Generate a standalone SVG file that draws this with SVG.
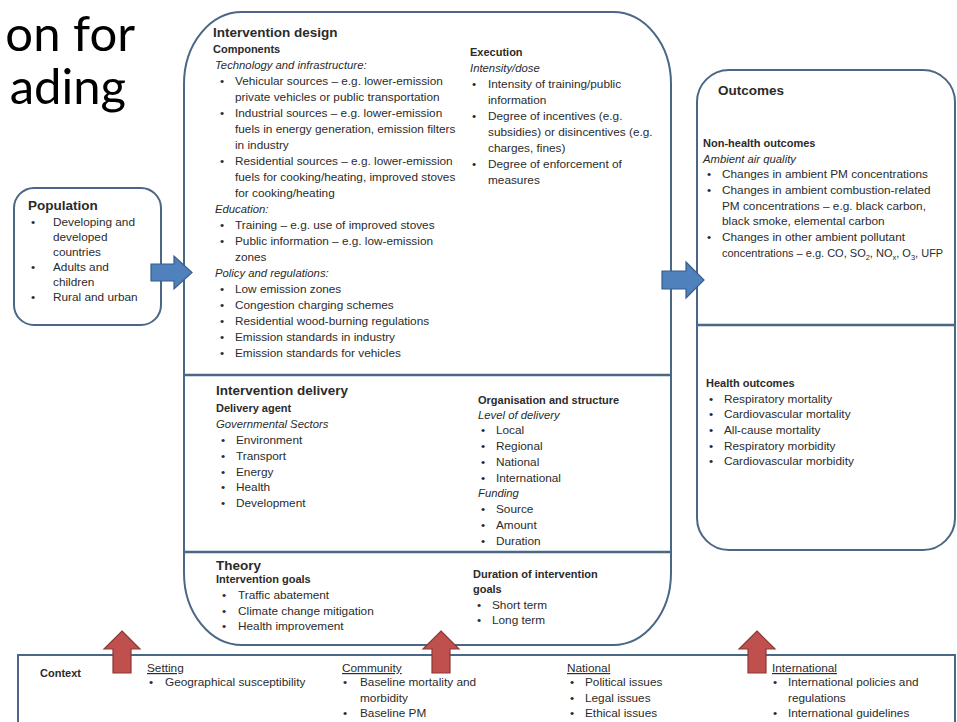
<svg xmlns="http://www.w3.org/2000/svg" width="957" height="722" viewBox="0 0 957 722">
<style>
text{font-family:"Liberation Sans",Arial,sans-serif;font-size:11.8px;fill:#2b2b2b}
.h1{font-weight:bold;font-size:13.5px}
.h2{font-weight:bold;font-size:11px}
.it{font-style:italic;font-size:11.3px}
.u{text-decoration:underline}
.title{font-family:Lato,"Liberation Sans",sans-serif;font-size:49px;fill:#000}
.box{fill:#fff;stroke:#4a6885;stroke-width:2}
.div{stroke:#4a6885;stroke-width:2.5}
.blue{fill:#4f81bd;stroke:#385d8a;stroke-width:1.2}
.red{fill:#c0504d;stroke:#8c3836;stroke-width:1.2}
</style>
<rect width="957" height="722" fill="#fff"/>
<g id="title">
<text class="title" x="135" y="51" text-anchor="end">on for</text>
<text class="title" x="126" y="104" text-anchor="end">ading</text>
</g>
<g id="population">
<rect class="box" x="14" y="188" width="147" height="137" rx="20"/>
<text class="h1" x="28" y="210">Population</text>
<text x="31" y="225.5">•</text><text x="53" y="225.5">Developing and</text>
<text x="53" y="240.5">developed</text>
<text x="53" y="255.5">countries</text>
<text x="31" y="270.5">•</text><text x="53" y="270.5">Adults and</text>
<text x="53" y="285.5">children</text>
<text x="31" y="300.5">•</text><text x="53" y="300.5">Rural and urban</text>
</g>
<g id="intervention">
<rect class="box" x="184" y="12" width="487" height="633" rx="58" ry="72"/>
<line class="div" x1="184" y1="375" x2="671" y2="375"/>
<line class="div" x1="184" y1="552" x2="671" y2="552"/>
<g id="design">
<text class="h1" x="213" y="37">Intervention design</text>
<text class="h2" x="213" y="53">Components</text>
<text class="it" x="215" y="68.5">Technology and infrastructure:</text>
<text x="220" y="84.5">•</text><text x="235" y="84.5">Vehicular sources – e.g. lower-emission</text>
<text x="235" y="100.5">private vehicles or public transportation</text>
<text x="220" y="116.5">•</text><text x="235" y="116.5">Industrial sources – e.g. lower-emission</text>
<text x="235" y="132.5">fuels in energy generation, emission filters</text>
<text x="235" y="148.5">in industry</text>
<text x="220" y="164.5">•</text><text x="235" y="164.5">Residential sources – e.g. lower-emission</text>
<text x="235" y="180.5">fuels for cooking/heating, improved stoves</text>
<text x="235" y="196.5">for cooking/heating</text>
<text class="it" x="215" y="212.5">Education:</text>
<text x="220" y="228.5">•</text><text x="235" y="228.5">Training – e.g. use of improved stoves</text>
<text x="220" y="244.5">•</text><text x="235" y="244.5">Public information – e.g. low-emission</text>
<text x="235" y="260.5">zones</text>
<text class="it" x="215" y="276.5">Policy and regulations:</text>
<text x="220" y="292.5">•</text><text x="235" y="292.5">Low emission zones</text>
<text x="220" y="308.5">•</text><text x="235" y="308.5">Congestion charging schemes</text>
<text x="220" y="324.5">•</text><text x="235" y="324.5">Residential wood-burning regulations</text>
<text x="220" y="340.5">•</text><text x="235" y="340.5">Emission standards in industry</text>
<text x="220" y="356.5">•</text><text x="235" y="356.5">Emission standards for vehicles</text>
<text class="h2" x="470" y="56">Execution</text>
<text class="it" x="470" y="71.5">Intensity/dose</text>
<text x="472" y="88">•</text><text x="488" y="88">Intensity of training/public</text>
<text x="488" y="104">information</text>
<text x="472" y="120">•</text><text x="488" y="120">Degree of incentives (e.g.</text>
<text x="488" y="136">subsidies) or disincentives (e.g.</text>
<text x="488" y="152">charges, fines)</text>
<text x="472" y="168">•</text><text x="488" y="168">Degree of enforcement of</text>
<text x="488" y="184">measures</text>
</g>
<g id="delivery">
<text class="h1" x="216" y="395">Intervention delivery</text>
<text class="h2" x="216" y="412">Delivery agent</text>
<text class="it" x="216" y="427.5">Governmental Sectors</text>
<text x="221" y="443.5">•</text><text x="236" y="443.5">Environment</text>
<text x="221" y="459.5">•</text><text x="236" y="459.5">Transport</text>
<text x="221" y="475.5">•</text><text x="236" y="475.5">Energy</text>
<text x="221" y="491">•</text><text x="236" y="491">Health</text>
<text x="221" y="507">•</text><text x="236" y="507">Development</text>
<text class="h2" x="478" y="404">Organisation and structure</text>
<text class="it" x="478" y="418.5">Level of delivery</text>
<text x="481" y="434">•</text><text x="496" y="434">Local</text>
<text x="481" y="450">•</text><text x="496" y="450">Regional</text>
<text x="481" y="465.5">•</text><text x="496" y="465.5">National</text>
<text x="481" y="481.5">•</text><text x="496" y="481.5">International</text>
<text class="it" x="478" y="497">Funding</text>
<text x="481" y="513">•</text><text x="496" y="513">Source</text>
<text x="481" y="529">•</text><text x="496" y="529">Amount</text>
<text x="481" y="544.5">•</text><text x="496" y="544.5">Duration</text>
</g>
<g id="theory">
<text class="h1" x="216" y="570">Theory</text>
<text class="h2" x="216" y="583">Intervention goals</text>
<text x="222" y="599">•</text><text x="238" y="599">Traffic abatement</text>
<text x="222" y="614.5">•</text><text x="238" y="614.5">Climate change mitigation</text>
<text x="222" y="630">•</text><text x="238" y="630">Health improvement</text>
<text class="h2" x="473" y="578">Duration of intervention</text>
<text class="h2" x="473" y="593">goals</text>
<text x="477" y="608.5">•</text><text x="492" y="608.5">Short term</text>
<text x="477" y="624">•</text><text x="492" y="624">Long term</text>
</g>
</g>
<g id="outcomes">
<rect class="box" x="697" y="70" width="258" height="480" rx="32"/>
<line class="div" x1="697" y1="325" x2="955" y2="325"/>
<text class="h1" x="718" y="95">Outcomes</text>
<text class="h2" x="703" y="147">Non-health outcomes</text>
<text class="it" x="703" y="162.5">Ambient air quality</text>
<text x="707" y="178">•</text><text x="722" y="178">Changes in ambient PM concentrations</text>
<text x="707" y="194">•</text><text x="722" y="194">Changes in ambient combustion-related</text>
<text x="722" y="209.5">PM concentrations – e.g. black carbon,</text>
<text x="722" y="225">black smoke, elemental carbon</text>
<text x="707" y="241">•</text><text x="722" y="241">Changes in other ambient pollutant</text>
<text x="722" y="257" style="font-size:11px">concentrations – e.g. CO, SO<tspan font-size="7.5" dy="3">2</tspan><tspan dy="-3">, NO</tspan><tspan font-size="7.5" dy="3">x</tspan><tspan dy="-3">, O</tspan><tspan font-size="7.5" dy="3">3</tspan><tspan dy="-3">, UFP</tspan></text>
<text class="h2" x="706" y="387">Health outcomes</text>
<text x="709" y="402.5">•</text><text x="724" y="402.5">Respiratory mortality</text>
<text x="709" y="418">•</text><text x="724" y="418">Cardiovascular mortality</text>
<text x="709" y="434">•</text><text x="724" y="434">All-cause mortality</text>
<text x="709" y="449.5">•</text><text x="724" y="449.5">Respiratory morbidity</text>
<text x="709" y="465">•</text><text x="724" y="465">Cardiovascular morbidity</text>
</g>
<g id="context">
<rect class="box" x="18" y="655" width="937" height="80"/>
<text class="h2" x="40" y="677">Context</text>
<text class="u" x="147" y="672">Setting</text>
<text x="149" y="686">•</text><text x="165" y="686">Geographical susceptibility</text>
<text class="u" x="342" y="672">Community</text>
<text x="343" y="686">•</text><text x="360" y="686">Baseline mortality and</text>
<text x="360" y="701.5">morbidity</text>
<text x="343" y="717">•</text><text x="360" y="717">Baseline PM</text>
<text class="u" x="567" y="672">National</text>
<text x="570" y="686">•</text><text x="585" y="686">Political issues</text>
<text x="570" y="701.5">•</text><text x="585" y="701.5">Legal issues</text>
<text x="570" y="717">•</text><text x="585" y="717">Ethical issues</text>
<text class="u" x="772" y="672">International</text>
<text x="773" y="686">•</text><text x="788" y="686">International policies and</text>
<text x="788" y="701.5">regulations</text>
<text x="773" y="717">•</text><text x="788" y="717">International guidelines</text>
</g>
<g id="connectors">
<polygon class="blue" points="151,264 174,264 174,256 192,272.5 174,289 174,281 151,281"/>
<polygon class="blue" points="662,271 686,271 686,262 704,280 686,298 686,289 662,289"/>
<polygon class="red" points="122,631 140,649 131,649 131,673 113,673 113,649 104,649"/>
<polygon class="red" points="441,631 459,649 450,649 450,673 432,673 432,649 423,649"/>
<polygon class="red" points="757,631 775,649 766,649 766,673 748,673 748,649 739,649"/>
</g>
</svg>
